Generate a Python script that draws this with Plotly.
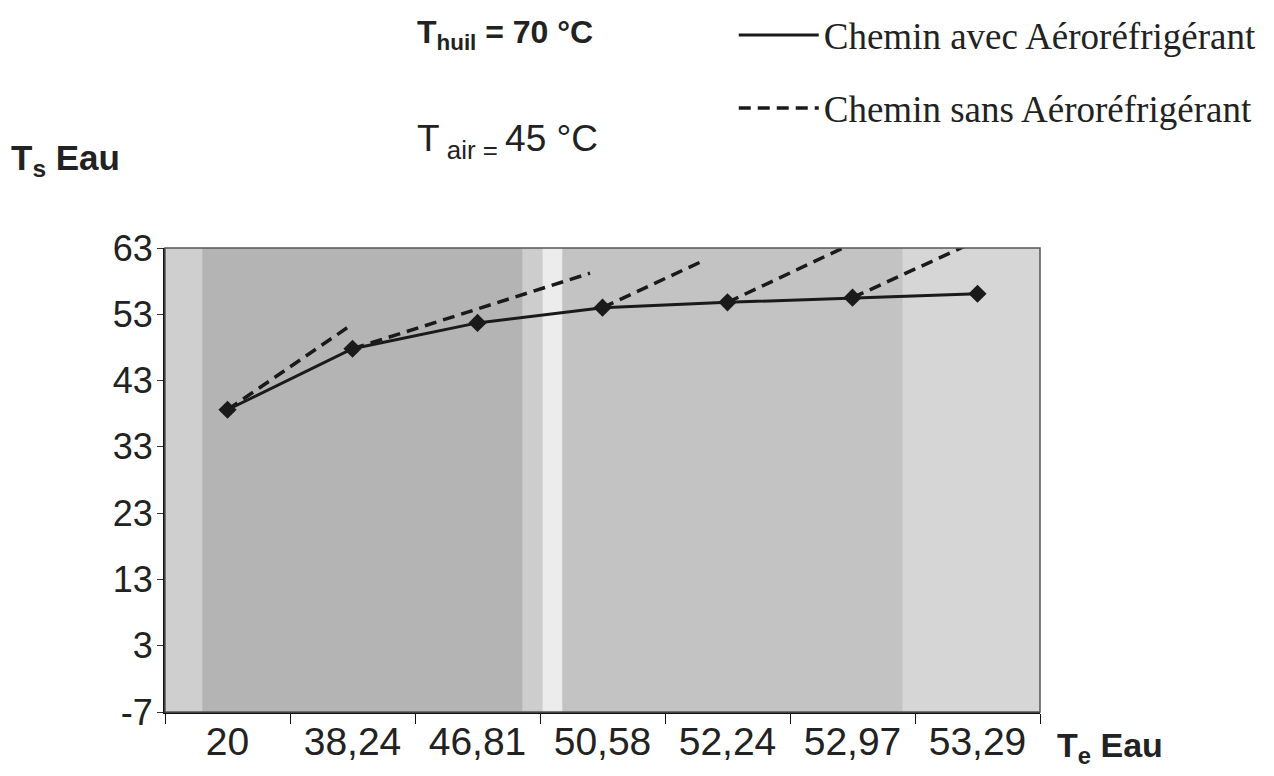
import plotly.graph_objects as go

# donnees
te_labels = ["20", "38,24", "46,81", "50,58", "52,24", "52,97", "53,29"]
ts_avec = [38.6, 47.8, 51.7, 54.0, 54.8, 55.5, 56.1]
y_ticks = [-7, 3, 13, 23, 33, 43, 53, 63]

# segments "sans aerorefrigerant" : depart sur le point, arrivee lue
dash_from = [0, 1, 3, 4, 5]
dash_end_x = [0.96, 2.9, 3.82, 4.98, 5.96]
dash_end_y = [51.0, 59.2, 61.2, 63.5, 63.8]

x_idx = list(range(len(te_labels)))

fig = go.Figure()

first = True
for i, xe, ye in zip(dash_from, dash_end_x, dash_end_y):
    fig.add_trace(go.Scatter(
        x=[x_idx[i], xe], y=[ts_avec[i], ye],
        mode="lines",
        line=dict(color="#1a1a1a", width=3.5, dash="12px,7px"),
        name="Chemin sans Aéroréfrigérant",
        legendgroup="sans", legendrank=2,
        showlegend=first))
    first = False

fig.add_trace(go.Scatter(
    x=x_idx, y=ts_avec,
    mode="lines",
    line=dict(color="#1a1a1a", width=3),
    name="Chemin avec Aéroréfrigérant",
    legendgroup="avec", legendrank=1))
fig.add_trace(go.Scatter(
    x=x_idx, y=ts_avec, mode="markers",
    marker=dict(symbol="diamond", size=14, color="#1a1a1a"),
    showlegend=False))

# fond gris du scan (bandes plus claires / plus sombres)
bands = [(-0.5, -0.2, "#cfcfcf"), (-0.2, 2.36, "#b4b4b4"), (2.36, 2.52, "#cdcdcd"),
         (2.52, 2.68, "#ececec"), (2.68, 5.4, "#c3c3c3"), (5.4, 6.5, "#d6d6d6")]
for x0, x1, c in bands:
    fig.add_shape(type="rect", xref="x", yref="paper", x0=x0, x1=x1, y0=0, y1=1,
                  fillcolor=c, line_width=0, layer="below")
fig.add_shape(type="rect", xref="paper", yref="paper", x0=0, x1=1, y0=0, y1=1,
              line=dict(color="#555555", width=1.5), layer="above")

ann_font = dict(family="Liberation Sans, Arial", color="#222222")
fig.add_annotation(xref="paper", yref="paper", x=0.286, y=1.46, xanchor="left",
                   yanchor="middle", showarrow=False,
                   text="<b>T<sub>huil</sub> = 70 °C</b>", font=dict(size=32, **ann_font))
fig.add_annotation(xref="paper", yref="paper", x=0.286, y=1.23, xanchor="left",
                   yanchor="middle", showarrow=False, text="T<sub> air = </sub>45 °C",
                   font=dict(size=37, **ann_font))
fig.add_annotation(xref="paper", yref="paper", x=-0.178, y=1.19, xanchor="left",
                   yanchor="middle", showarrow=False, text="<b>T<sub>s</sub> Eau</b>",
                   font=dict(size=35, **ann_font))
fig.add_annotation(xref="paper", yref="paper", x=1.017, y=-0.076, xanchor="left",
                   yanchor="middle", showarrow=False, text="<b>T<sub>e</sub> Eau</b>",
                   font=dict(size=34, **ann_font))

# la page ajoute une marge de 8 px : la figure est reduite d'autant
fig.update_layout(
    width=1266, height=768,
    margin=dict(l=157, r=234, t=240, b=64, autoexpand=False),
    paper_bgcolor="white", plot_bgcolor="#c0c0c0",
    font=dict(family="Liberation Sans, Arial", color="#222222"),
    legend=dict(x=0.65, y=1.525, xanchor="left", yanchor="top",
                font=dict(family="Liberation Serif, Times New Roman", size=37, color="#222222"),
                bgcolor="rgba(0,0,0,0)", itemwidth=80, tracegroupgap=22,
                traceorder="grouped"),
    xaxis=dict(range=[-0.5, 6.5], tickvals=x_idx, ticktext=te_labels,
               showgrid=False, zeroline=False, showline=True, linecolor="#111111",
               linewidth=2, ticks="", tickfont=dict(size=39), automargin=False,
               ticklabelstandoff=-6,
               minor=dict(tickvals=[k - 0.5 for k in range(8)], ticks="outside",
                          ticklen=10, tickcolor="#111111", showgrid=False)),
    yaxis=dict(range=[-7, 63], tickvals=y_ticks, ticktext=[str(v) for v in y_ticks],
               showgrid=False, zeroline=False, automargin=False,
               showline=True, linecolor="#111111", linewidth=2, ticks="outside",
               ticklen=6, tickcolor="#333333", tickfont=dict(size=36),
               ticklabelstandoff=-3),
)

fig.write_html("out.html")
